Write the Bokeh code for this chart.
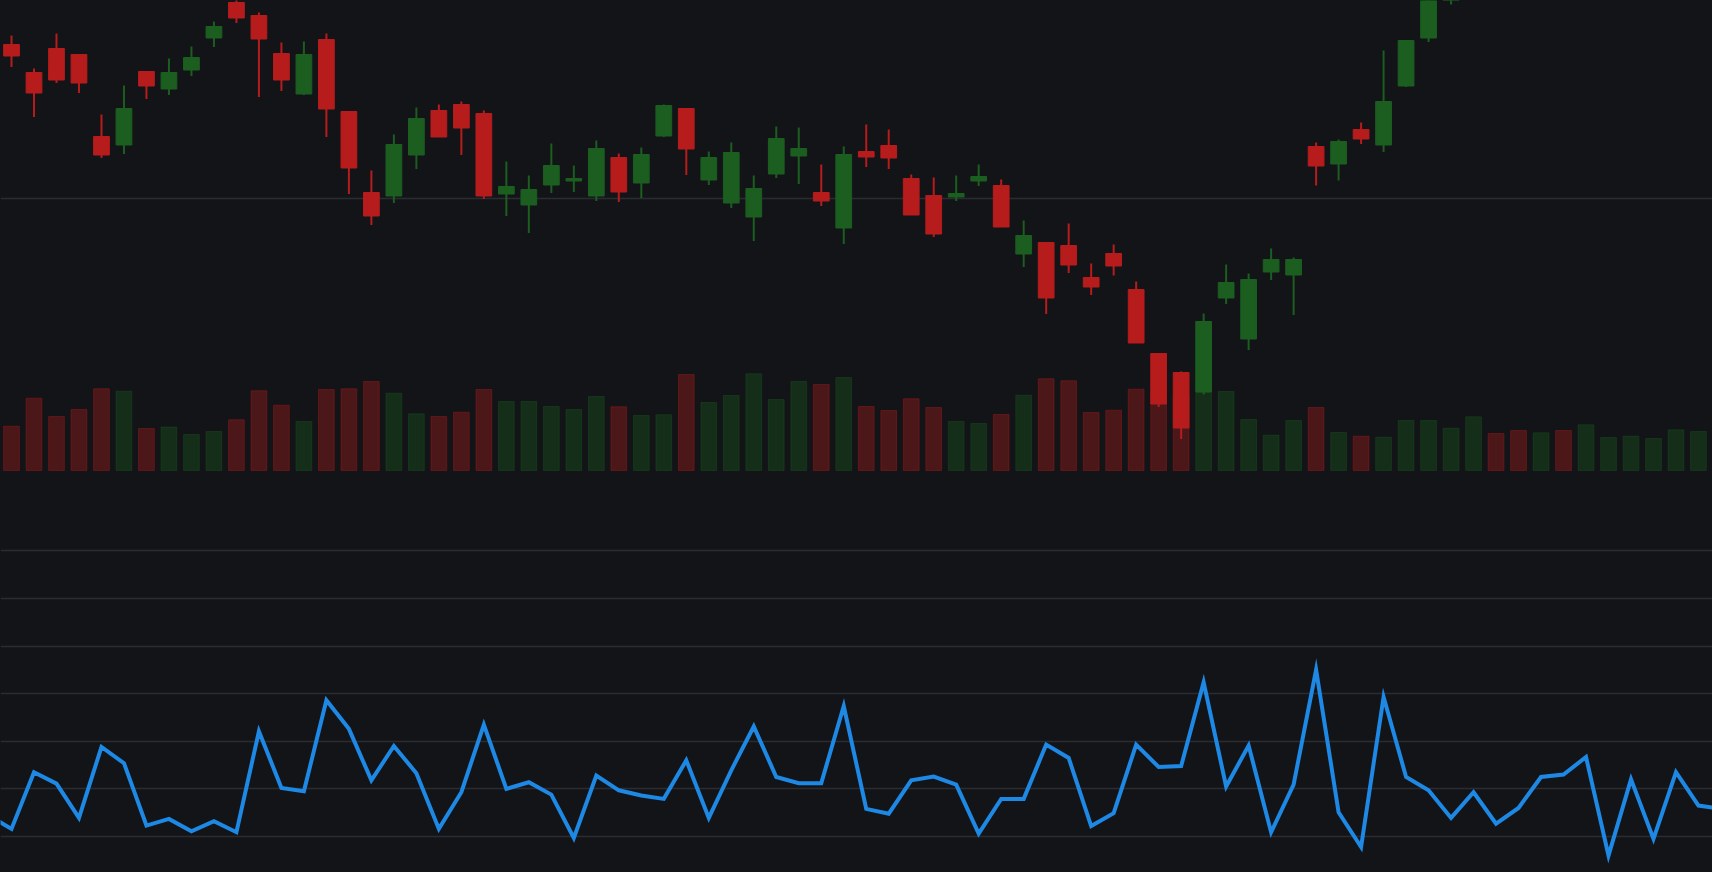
from bokeh.plotting import figure
from bokeh.models import (ColumnDataSource, Range1d, Grid, SingleIntervalTicker,
                          GlobalInlineStyleSheet, CDSView, BooleanFilter)
from bokeh.embed import file_html
from bokeh.resources import INLINE

# ---------------- data ----------------
idx = list(range(76))

opens = [130.7, 125.1, 129.9, 128.7, 112.3, 110.6, 125.3, 121.8, 125.6, 132.0,
         139.1, 136.5, 128.9, 120.8, 131.7, 117.3, 101.1, 100.4, 108.6, 117.5,
         118.7, 116.9, 100.8, 98.6, 102.6, 103.4, 100.4, 108.1, 103.0, 112.4,
         117.9, 103.6, 99.0, 96.2, 104.8, 108.4, 101.1, 94.0, 109.3, 110.5,
         103.9, 100.5, 100.2, 103.4, 102.5, 88.8, 91.1, 90.5, 84.1, 88.9,
         81.7, 68.9, 65.1, 61.2, 80.0, 71.8, 85.2, 84.6, 110.3, 106.8,
         113.7, 110.6, 122.4, 132.0, 143.5, 150.5, 157.5, 154.5, 151.0, 156.0,
         153.5, 158.5, 161.0, 164.0, 166.0, 169.5]

highs = [132.5, 125.9, 132.9, 128.7, 116.7, 122.5, 125.3, 127.9, 130.3, 135.3,
         140.1, 137.1, 131.1, 131.3, 132.9, 117.3, 105.5, 112.7, 118.1, 118.7,
         119.3, 117.5, 107.3, 104.5, 110.9, 106.5, 111.5, 108.9, 110.1, 118.7,
         117.9, 109.3, 111.1, 104.5, 114.3, 114.1, 106.7, 110.3, 114.7, 113.7,
         104.7, 104.1, 104.5, 106.7, 103.7, 95.5, 91.1, 94.9, 86.9, 90.7,
         83.3, 68.9, 65.3, 76.9, 86.7, 84.9, 89.9, 88.1, 111.1, 111.7,
         115.1, 129.5, 131.5, 141.5, 153.5, 158.5, 159.5, 156.0, 158.0, 157.5,
         160.0, 162.0, 165.5, 167.5, 170.5, 173.5]

lows = [126.2, 116.2, 123.0, 121.0, 108.0, 108.8, 119.8, 120.6, 124.4, 130.2,
        135.0, 120.2, 121.4, 120.6, 112.2, 100.8, 94.6, 99.0, 105.8, 112.2,
        108.6, 99.8, 96.4, 93.0, 101.0, 101.2, 99.4, 99.2, 100.0, 112.2,
        104.6, 102.6, 98.0, 91.4, 104.0, 102.8, 98.4, 90.8, 106.2, 105.8,
        96.6, 92.2, 99.4, 102.4, 94.2, 86.2, 76.8, 85.0, 80.6, 84.5,
        71.0, 58.2, 51.8, 60.7, 78.8, 69.6, 83.6, 76.6, 102.5, 103.5,
        110.8, 109.2, 122.2, 131.2, 138.7, 149.0, 152.5, 149.5, 150.0, 152.0,
        152.5, 157.5, 160.0, 163.0, 165.0, 168.5]

closes = [128.4, 121.0, 123.6, 123.0, 108.6, 117.9, 122.4, 125.1, 128.1, 134.3,
          136.0, 131.8, 123.6, 128.7, 117.8, 106.0, 96.4, 110.7, 115.9, 112.2,
          114.0, 100.4, 102.3, 101.7, 106.5, 103.9, 109.9, 101.2, 108.7, 118.5,
          109.8, 108.1, 109.1, 101.9, 111.9, 109.9, 99.4, 108.7, 108.2, 108.0,
          96.6, 92.8, 100.9, 104.3, 94.2, 92.5, 80.0, 86.6, 82.2, 86.4,
          71.0, 58.8, 54.0, 75.3, 83.1, 83.7, 87.7, 87.7, 106.4, 111.3,
          111.8, 119.3, 131.5, 140.5, 151.5, 157.0, 154.0, 151.0, 156.5, 153.5,
          158.5, 161.0, 164.5, 166.0, 169.5, 172.0]

volumes = [443, 723, 540, 610, 817, 793, 420, 435, 360, 390,
           507, 797, 653, 490, 810, 817, 890, 773, 567, 540,
           583, 810, 690, 690, 640, 610, 740, 637, 550, 557,
           960, 680, 750, 967, 710, 890, 860, 930, 640, 600,
           717, 630, 490, 470, 560, 753, 917, 897, 580, 603,
           813, 780, 750, 780, 790, 510, 353, 500, 630, 380,
           343, 333, 500, 500, 423, 537, 370, 400, 377, 400,
           457, 330, 343, 320, 407, 390]

line_idx = list(range(-1, 77))
line_vals = [14.4, 11.6, 23.5, 21.1, 13.9, 28.8, 25.4, 12.3, 13.7, 11.1,
             13.2, 10.9, 32.1, 20.2, 19.5, 38.6, 32.6, 21.8, 29.0, 23.3,
             11.6, 19.3, 33.5, 20.0, 21.4, 18.8, 9.7, 22.8, 19.7, 18.6,
             17.9, 26.0, 13.9, 23.9, 33.1, 22.5, 21.2, 21.2, 37.4, 15.8,
             14.8, 21.8, 22.6, 20.9, 10.6, 17.9, 17.9, 29.3, 26.5, 12.2,
             14.9, 29.3, 24.6, 24.8, 42.4, 20.5, 29.1, 10.9, 20.9, 45.0,
             15.1, 7.8, 39.3, 22.5, 19.7, 13.9, 19.3, 12.7, 16.0, 22.5,
             23.0, 26.7, 6.0, 22.0, 9.5, 23.5, 16.5, 15.8]

# ---------------- styles ----------------
BG = "#131418"
GRID = "#2b2c31"
UP = "#1b5e20"
DOWN = "#b71c1c"
LINE = "#1e88e5"

PRICE_MIN, PRICE_MAX = -34.9, 139.5

up_flags = [c >= o for o, c in zip(opens, closes)]
colors = [UP if u else DOWN for u in up_flags]

src = ColumnDataSource(dict(
    x=idx, open=opens, high=highs, low=lows, close=closes,
    top=[max(o, c) for o, c in zip(opens, closes)],
    bottom=[min(o, c) for o, c in zip(opens, closes)],
    vol=volumes, color=colors,
))

# candles whose whole range lies above the visible window are not drawn
in_view = CDSView(filter=BooleanFilter(booleans=[lo < PRICE_MAX for lo in lows]))

p = figure(width=1712, height=872, output_backend="svg", toolbar_location=None,
           x_range=Range1d(-0.489, 75.623), y_range=Range1d(PRICE_MIN, PRICE_MAX),
           x_axis_location=None, y_axis_location=None, min_border=0,
           background_fill_color=BG, border_fill_color=BG, outline_line_color=None)
p.grid.visible = False

p.extra_y_ranges = {"vol": Range1d(-4020, 4700), "line": Range1d(2.44, 185.56)}

# grids
p.add_layout(Grid(dimension=1, ticker=SingleIntervalTicker(interval=100),
                  bounds=(50, 150), grid_line_color=GRID, grid_line_width=1.5))
p.add_layout(Grid(dimension=1, ticker=SingleIntervalTicker(interval=10),
                  bounds=(5, 75), y_range_name="line",
                  grid_line_color=GRID, grid_line_width=1.5))

# volume
p.vbar(x="x", top="vol", bottom=0, width=0.7, source=src, y_range_name="vol",
       fill_color="color", line_color="color", fill_alpha=0.35, line_alpha=0.35)

# candles
p.segment(x0="x", y0="low", x1="x", y1="high", source=src, view=in_view,
          line_color="color", line_width=2)
p.vbar(x="x", top="top", bottom="bottom", width=0.7, source=src, view=in_view,
       fill_color="color", line_color="color", line_width=1)

# indicator line
p.line(x=line_idx, y=line_vals, y_range_name="line", line_color=LINE,
       line_width=4, line_join="miter")

p.stylesheets = [GlobalInlineStyleSheet(css="html, body { background-color: #131418; }")]

open("out.html", "w").write(file_html(p, INLINE))
